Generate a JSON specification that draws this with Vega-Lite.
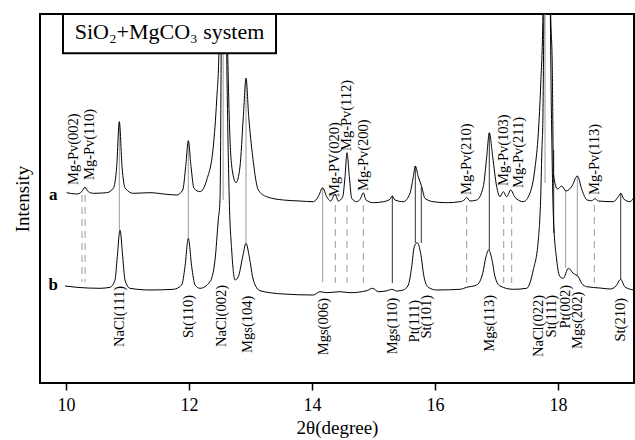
{
  "$schema": "https://vega.github.io/schema/vega-lite/v6.json",
  "width": 594,
  "height": 369,
  "autosize": {"type": "none"},
  "padding": {"left": 40, "top": 14, "right": 1, "bottom": 57},
  "background": "white",
  "config": {"view": {"stroke": "black", "strokeWidth": 2}, "font": "Liberation Serif"},
  "datasets": {
    "spectra": [
      {"s":"a","x":10.011,"y":190.3},{"s":"a","x":10.174,"y":189},{"s":"a","x":10.255,"y":191.3},{"s":"a","x":10.309,"y":195.7},{"s":"a","x":10.363,"y":191.3},{"s":"a","x":10.444,"y":189.7},{"s":"a","x":10.662,"y":190.3},{"s":"a","x":10.769,"y":194.7},{"s":"a","x":10.824,"y":216.3},{"s":"a","x":10.867,"y":261.3},{"s":"a","x":10.911,"y":216.3},{"s":"a","x":10.964,"y":194.7},{"s":"a","x":11.094,"y":189.7},{"s":"a","x":11.366,"y":190.3},{"s":"a","x":11.637,"y":188.7},{"s":"a","x":11.8,"y":188},{"s":"a","x":11.898,"y":193},{"s":"a","x":11.946,"y":216.3},{"s":"a","x":11.989,"y":242.3},{"s":"a","x":12.033,"y":216.3},{"s":"a","x":12.081,"y":194.7},{"s":"a","x":12.179,"y":191.3},{"s":"a","x":12.288,"y":203},{"s":"a","x":12.395,"y":236.3},{"s":"a","x":12.45,"y":283},{"s":"a","x":12.488,"y":333},{"s":"a","x":12.525,"y":480},{"s":"a","x":12.558,"y":800},{"s":"a","x":12.592,"y":480},{"s":"a","x":12.629,"y":333},{"s":"a","x":12.667,"y":243},{"s":"a","x":12.711,"y":210},{"s":"a","x":12.764,"y":200.3},{"s":"a","x":12.829,"y":216.3},{"s":"a","x":12.883,"y":266.3},{"s":"a","x":12.927,"y":304.7},{"s":"a","x":12.971,"y":266.3},{"s":"a","x":13.036,"y":226.3},{"s":"a","x":13.127,"y":193},{"s":"a","x":13.263,"y":186.3},{"s":"a","x":13.533,"y":183},{"s":"a","x":13.805,"y":182},{"s":"a","x":14.021,"y":181.3},{"s":"a","x":14.102,"y":186.3},{"s":"a","x":14.174,"y":195.3},{"s":"a","x":14.239,"y":186.3},{"s":"a","x":14.304,"y":182},{"s":"a","x":14.374,"y":189},{"s":"a","x":14.428,"y":182},{"s":"a","x":14.499,"y":186.3},{"s":"a","x":14.537,"y":206.3},{"s":"a","x":14.569,"y":230.3},{"s":"a","x":14.607,"y":206.3},{"s":"a","x":14.646,"y":184.7},{"s":"a","x":14.727,"y":181.3},{"s":"a","x":14.792,"y":184.7},{"s":"a","x":14.834,"y":190.3},{"s":"a","x":14.878,"y":183},{"s":"a","x":14.997,"y":180.3},{"s":"a","x":15.159,"y":181.3},{"s":"a","x":15.268,"y":183.7},{"s":"a","x":15.306,"y":187},{"s":"a","x":15.35,"y":183},{"s":"a","x":15.485,"y":181.3},{"s":"a","x":15.593,"y":189.7},{"s":"a","x":15.647,"y":206.3},{"s":"a","x":15.68,"y":217},{"s":"a","x":15.728,"y":206.3},{"s":"a","x":15.784,"y":196.3},{"s":"a","x":15.837,"y":184.7},{"s":"a","x":15.972,"y":181.3},{"s":"a","x":16.19,"y":180.3},{"s":"a","x":16.407,"y":181.3},{"s":"a","x":16.488,"y":183.7},{"s":"a","x":16.515,"y":185.7},{"s":"a","x":16.569,"y":182},{"s":"a","x":16.678,"y":183},{"s":"a","x":16.785,"y":196.3},{"s":"a","x":16.841,"y":226.3},{"s":"a","x":16.883,"y":250.3},{"s":"a","x":16.938,"y":226.3},{"s":"a","x":17.003,"y":196.3},{"s":"a","x":17.057,"y":186.3},{"s":"a","x":17.111,"y":191.3},{"s":"a","x":17.166,"y":186.3},{"s":"a","x":17.231,"y":193},{"s":"a","x":17.301,"y":185.7},{"s":"a","x":17.436,"y":181.3},{"s":"a","x":17.545,"y":190},{"s":"a","x":17.626,"y":215},{"s":"a","x":17.68,"y":250},{"s":"a","x":17.72,"y":300},{"s":"a","x":17.755,"y":369.7},{"s":"a","x":17.813,"y":800},{"s":"a","x":17.881,"y":369.7},{"s":"a","x":17.907,"y":316.3},{"s":"a","x":17.927,"y":208},{"s":"a","x":17.992,"y":194},{"s":"a","x":18.06,"y":197},{"s":"a","x":18.13,"y":192},{"s":"a","x":18.228,"y":197},{"s":"a","x":18.314,"y":207},{"s":"a","x":18.39,"y":193},{"s":"a","x":18.472,"y":183},{"s":"a","x":18.548,"y":182.3},{"s":"a","x":18.602,"y":184.3},{"s":"a","x":18.655,"y":182},{"s":"a","x":18.899,"y":181.3},{"s":"a","x":18.98,"y":186.3},{"s":"a","x":19.02,"y":189.7},{"s":"a","x":19.073,"y":183.7},{"s":"a","x":19.171,"y":181.3},{"s":"a","x":19.224,"y":184.7},
      {"s":"b","x":9.984,"y":97},{"s":"b","x":10.174,"y":95.7},{"s":"b","x":10.553,"y":94.7},{"s":"b","x":10.715,"y":95.7},{"s":"b","x":10.797,"y":103},{"s":"b","x":10.834,"y":126.3},{"s":"b","x":10.878,"y":153},{"s":"b","x":10.922,"y":126.3},{"s":"b","x":10.959,"y":103},{"s":"b","x":11.041,"y":94.7},{"s":"b","x":11.366,"y":93},{"s":"b","x":11.745,"y":93.7},{"s":"b","x":11.881,"y":98},{"s":"b","x":11.935,"y":116.3},{"s":"b","x":11.989,"y":144.7},{"s":"b","x":12.044,"y":116.3},{"s":"b","x":12.098,"y":98},{"s":"b","x":12.179,"y":94.7},{"s":"b","x":12.341,"y":101.3},{"s":"b","x":12.423,"y":123},{"s":"b","x":12.476,"y":163},{"s":"b","x":12.504,"y":183},{"s":"b","x":12.53,"y":400},{"s":"b","x":12.56,"y":700},{"s":"b","x":12.6,"y":400},{"s":"b","x":12.655,"y":183},{"s":"b","x":12.694,"y":133},{"s":"b","x":12.748,"y":103},{"s":"b","x":12.802,"y":106.3},{"s":"b","x":12.873,"y":126.3},{"s":"b","x":12.927,"y":139.7},{"s":"b","x":12.98,"y":126.3},{"s":"b","x":13.046,"y":103},{"s":"b","x":13.154,"y":92.3},{"s":"b","x":13.533,"y":89},{"s":"b","x":14.021,"y":88},{"s":"b","x":14.13,"y":91.3},{"s":"b","x":14.239,"y":90.3},{"s":"b","x":14.455,"y":91.3},{"s":"b","x":14.618,"y":90.3},{"s":"b","x":14.889,"y":92.3},{"s":"b","x":14.987,"y":94.7},{"s":"b","x":15.078,"y":91.3},{"s":"b","x":15.224,"y":92.3},{"s":"b","x":15.296,"y":93.7},{"s":"b","x":15.377,"y":92},{"s":"b","x":15.485,"y":93},{"s":"b","x":15.566,"y":98},{"s":"b","x":15.621,"y":116.3},{"s":"b","x":15.663,"y":136.3},{"s":"b","x":15.712,"y":140.3},{"s":"b","x":15.767,"y":129.7},{"s":"b","x":15.821,"y":106.3},{"s":"b","x":15.891,"y":95.7},{"s":"b","x":16.028,"y":93},{"s":"b","x":16.407,"y":93.7},{"s":"b","x":16.515,"y":95.7},{"s":"b","x":16.678,"y":98},{"s":"b","x":16.776,"y":109.7},{"s":"b","x":16.829,"y":126.3},{"s":"b","x":16.873,"y":133},{"s":"b","x":16.922,"y":124.7},{"s":"b","x":16.976,"y":106.3},{"s":"b","x":17.057,"y":97},{"s":"b","x":17.273,"y":93.7},{"s":"b","x":17.491,"y":94.7},{"s":"b","x":17.598,"y":113},{"s":"b","x":17.68,"y":143},{"s":"b","x":17.719,"y":186.3},{"s":"b","x":17.74,"y":236.3},{"s":"b","x":17.751,"y":253},{"s":"b","x":17.813,"y":700},{"s":"b","x":17.897,"y":253},{"s":"b","x":17.923,"y":169.7},{"s":"b","x":17.979,"y":123},{"s":"b","x":18.033,"y":106.3},{"s":"b","x":18.086,"y":104.7},{"s":"b","x":18.168,"y":114.7},{"s":"b","x":18.249,"y":109.7},{"s":"b","x":18.33,"y":106.3},{"s":"b","x":18.385,"y":99.7},{"s":"b","x":18.467,"y":96.3},{"s":"b","x":18.683,"y":95},{"s":"b","x":18.846,"y":94},{"s":"b","x":18.943,"y":97},{"s":"b","x":19.02,"y":103.7},{"s":"b","x":19.089,"y":96},{"s":"b","x":19.236,"y":93}
    ],
    "refs": [
      {"x":10.867,"y":261,"y2":153,"style":"solid","tone":"gray"},
      {"x":11.989,"y":242,"y2":145,"style":"solid","tone":"gray"},
      {"x":12.555,"y":369,"y2":183,"style":"solid","tone":"gray"},
      {"x":12.927,"y":305,"y2":140,"style":"solid","tone":"gray"},
      {"x":14.174,"y":195,"y2":101,"style":"solid","tone":"gray"},
      {"x":15.306,"y":187,"y2":100,"style":"solid","tone":"black"},
      {"x":15.68,"y":217,"y2":140,"style":"solid","tone":"black"},
      {"x":15.777,"y":196,"y2":140,"style":"solid","tone":"black"},
      {"x":16.883,"y":250,"y2":133,"style":"solid","tone":"black"},
      {"x":17.789,"y":369,"y2":200,"style":"solid","tone":"gray"},
      {"x":17.93,"y":233,"y2":150,"style":"solid","tone":"black"},
      {"x":18.125,"y":192,"y2":115,"style":"solid","tone":"gray"},
      {"x":18.314,"y":207,"y2":106,"style":"solid","tone":"gray"},
      {"x":19.02,"y":190,"y2":104,"style":"solid","tone":"black"},
      {"x":10.26,"y":188,"y2":101,"style":"dashed","tone":"gray"},
      {"x":10.31,"y":188,"y2":101,"style":"dashed","tone":"gray"},
      {"x":14.379,"y":178,"y2":100,"style":"dashed","tone":"gray"},
      {"x":14.569,"y":178,"y2":100,"style":"dashed","tone":"gray"},
      {"x":14.834,"y":178,"y2":100,"style":"dashed","tone":"gray"},
      {"x":16.515,"y":178,"y2":100,"style":"dashed","tone":"gray"},
      {"x":17.117,"y":178,"y2":100,"style":"dashed","tone":"gray"},
      {"x":17.247,"y":178,"y2":100,"style":"dashed","tone":"gray"},
      {"x":18.59,"y":178,"y2":100,"style":"dashed","tone":"gray"}
    ],
    "botlab": [
      {"x":10.878,"y":97,"t":"NaCl(111)"},
      {"x":12.0,"y":88,"t":"St(110)"},
      {"x":12.537,"y":98,"t":"NaCl(002)"},
      {"x":12.959,"y":87.3,"t":"Mgs(104)"},
      {"x":14.195,"y":85,"t":"Mgs(006)"},
      {"x":15.325,"y":85.3,"t":"Mgs(110)"},
      {"x":15.675,"y":83,"t":"Pt(111)"},
      {"x":15.87,"y":88,"t":"St(101)"},
      {"x":16.894,"y":88,"t":"Mgs(113)"},
      {"x":17.699,"y":88,"t":"NaCl(022)"},
      {"x":17.898,"y":88,"t":"St(111)"},
      {"x":18.13,"y":98,"t":"Pt(002)"},
      {"x":18.325,"y":91.3,"t":"Mgs(202)"},
      {"x":19.024,"y":85,"t":"St(210)"}
    ],
    "toplab": [
      {"x":10.13,"y":198,"t":"Mg-Pv(002)"},
      {"x":10.39,"y":203,"t":"Mg-Pv(110)"},
      {"x":14.374,"y":186,"t":"Mg-PV(020)"},
      {"x":14.569,"y":232,"t":"Mg-Pv(112)"},
      {"x":14.846,"y":192,"t":"Mg-Pv(200)"},
      {"x":16.528,"y":188,"t":"Mg-Pv(210)"},
      {"x":17.114,"y":197,"t":"Mg-Pv(103)"},
      {"x":17.366,"y":195,"t":"Mg-Pv(211)"},
      {"x":18.602,"y":188,"t":"Mg-Pv(113)"}
    ],
    "series": [
      {"x":9.793,"y":188,"t":"a"},
      {"x":9.793,"y":98,"t":"b"}
    ],
    "box": [
      {"x":9.951,"x2":13.415,"y":369,"y2":329.7}
    ],
    "boxtitle": [
      {"x":11.683,"y":343.7,"t":"SiO₂+MgCO₃ system"}
    ]
  },
  "encoding": {
    "x": {"field": "x", "type": "quantitative",
      "scale": {"domain": [9.5772, 19.2358], "nice": false, "zero": false},
      "axis": {"values": [10, 12, 14, 16, 18], "title": "2θ(degree)", "domain": false, "grid": false,
        "tickColor": "black", "tickSize": 7, "tickWidth": 1.5,
        "labelFont": "Liberation Serif", "labelFontSize": 18, "labelColor": "black", "labelPadding": 6,
        "titleFont": "Liberation Serif", "titleFontSize": 19, "titleFontWeight": "normal", "titleColor": "black", "titlePadding": 4}},
    "y": {"field": "y", "type": "quantitative",
      "scale": {"domain": [0, 369], "nice": false, "zero": false},
      "axis": {"labels": false, "ticks": false, "domain": false, "grid": false, "title": "Intensity",
        "titleFont": "Liberation Serif", "titleFontSize": 19, "titleFontWeight": "normal", "titleColor": "black", "titlePadding": 8}}
  },
  "layer": [
    {
      "data": {"name": "refs"},
      "mark": {"type": "rule", "clip": true, "strokeWidth": 1},
      "encoding": {
        "y2": {"field": "y2"},
        "strokeDash": {"field": "style", "type": "nominal", "scale": {"domain": ["solid", "dashed"], "range": [[1, 0], [7, 5]]}, "legend": null},
        "color": {"field": "tone", "type": "nominal", "scale": {"domain": ["black", "gray"], "range": ["#333333", "#9a9a9a"]}, "legend": null}
      }
    },
    {
      "data": {"name": "spectra"},
      "mark": {"type": "line", "clip": true, "stroke": "black", "strokeWidth": 1, "interpolate": "monotone"},
      "encoding": {"detail": {"field": "s", "type": "nominal"}}
    },
    {
      "data": {"name": "box"},
      "mark": {"type": "rect", "fill": "white", "fillOpacity": 1, "stroke": "black", "strokeWidth": 2},
      "encoding": {
        "x2": {"field": "x2"},
        "y2": {"field": "y2"}
      }
    },
    {
      "data": {"name": "boxtitle"},
      "mark": {"type": "text", "font": "Liberation Serif", "fontSize": 22, "align": "center", "baseline": "alphabetic", "color": "black"},
      "encoding": {"text": {"field": "t"}}
    },
    {
      "data": {"name": "botlab"},
      "mark": {"type": "text", "font": "Liberation Serif", "fontSize": 14.5, "angle": 270, "align": "right", "baseline": "middle", "color": "black"},
      "encoding": {"text": {"field": "t"}}
    },
    {
      "data": {"name": "toplab"},
      "mark": {"type": "text", "font": "Liberation Serif", "fontSize": 14.5, "angle": 270, "align": "left", "baseline": "middle", "color": "black"},
      "encoding": {"text": {"field": "t"}}
    },
    {
      "data": {"name": "series"},
      "mark": {"type": "text", "font": "Liberation Serif", "fontSize": 17, "fontWeight": "bold", "align": "center", "baseline": "middle", "color": "black"},
      "encoding": {"text": {"field": "t"}}
    }
  ]
}
